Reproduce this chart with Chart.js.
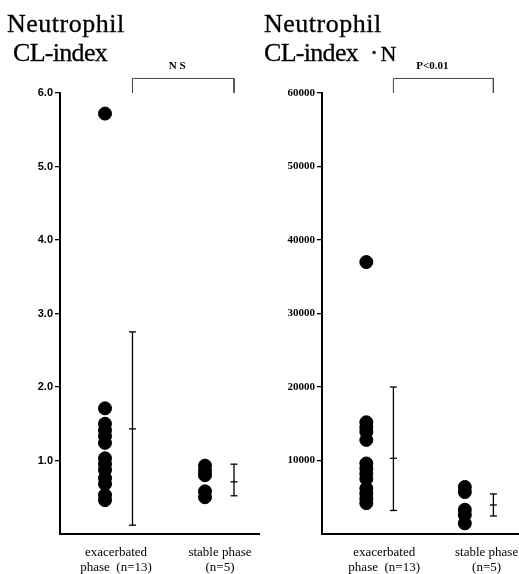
<!DOCTYPE html>
<html>
  <head>
    <title>Neutrophil CL-index</title>
    <script src="https://cdn.jsdelivr.net/npm/chart.js"></script>
    <style>
      body { margin: 0; background: #fff; }
      #wrap { position: relative; width: 519px; height: 574px; overflow: hidden; }
      canvas { position: absolute; top: 0; }
      .ttl {
        position: absolute; top: 9px;
        font-family: "Liberation Serif", serif; font-size: 26px; line-height: 29px; color: #000;
        -webkit-text-stroke: 0.3px #000;
      }
      .ttl span { display: block; white-space: nowrap; }
      .ttl .n1 { letter-spacing: 0.5px; }
      .ttl .n2 { letter-spacing: -0.7px; }
      .ttl .nn { display: inline; font-size: 22px; letter-spacing: 0; margin-left: 3px; }
    </style>
  </head>
  <body>
    <div id="wrap">
      <canvas id="chartCL" width="260" height="574" style="left:0"></canvas>
      <canvas id="chartCLN" width="259" height="574" style="left:260px"></canvas>
      <div class="ttl" style="left:7px"><span class="n1">Neutrophil</span><span class="n2" style="margin-left:6px">CL-index</span></div>
      <div class="ttl" style="left:264px"><span class="n1">Neutrophil</span><span class="n2">CL-index&nbsp; ·<span class="nn">N</span></span></div>
    </div>

    <script>
      // 값
      const xLabels = [["exacerbated", "phase  (n=13)"], ["stable phase", "(n=5)"]];
      const dotPos = [0.9, 2.9];   // 점 열 위치 (x축 단위)
      const barPos = [1.45, 3.48]; // 평균±SD 막대 위치
      const labelPos = [1.12, 3.2];

      // 왼쪽: CL-index
      const exaCL = [5.72, 1.71, 1.50, 1.41, 1.33, 1.24, 1.03, 0.95, 0.87, 0.76, 0.68, 0.53, 0.46];
      const staCL = [0.93, 0.86, 0.80, 0.58, 0.50];
      const exaCLbar = [2.75, 1.43, 0.12]; // high, mean, low
      const staCLbar = [0.95, 0.71, 0.52];
      const yTicksCL = [1, 2, 3, 4, 5, 6];

      // 오른쪽: CL-index · N
      const exaCLN = [37000, 15200, 14500, 13900, 12800, 9600, 8900, 8200, 7500, 6200, 5500, 4800, 4200];
      const staCLN = [6400, 5700, 3300, 2600, 1450];
      const exaCLNbar = [20000, 10300, 3200];
      const staCLNbar = [5450, 3950, 2450];
      const yTicksCLN = [10000, 20000, 30000, 40000, 50000, 60000];

      const sigLabels = ["N S", "P<0.01"];

      function dotSet(vals, x) {
        return {
          type: "scatter",
          data: vals.map((v) => ({ x: x, y: v })),
          backgroundColor: "#000",
          borderColor: "#000",
          pointRadius: 6.5,
          pointHoverRadius: 6.5,
        };
      }

      function barLine(bar, x) {
        return {
          type: "line",
          data: [{ x: x, y: bar[0] }, { x: x, y: bar[2] }],
          borderColor: "#000",
          borderWidth: 1.3,
          pointRadius: 0,
          fill: false,
        };
      }

      function barCaps(bar, x) {
        return {
          type: "scatter",
          data: bar.map((v) => ({ x: x, y: v })),
          pointStyle: "line",
          pointRadius: 3.5,
          borderColor: "#000",
          borderWidth: 1.3,
        };
      }

      function makeChart(id, o) {
        const bracketTop = o.yMax * 1.033;
        const ctx = document.getElementById(id).getContext("2d");
        return new Chart(ctx, {
          data: {
            datasets: [
              dotSet(o.exa, dotPos[0]),
              dotSet(o.sta, dotPos[1]),
              barLine(o.exaBar, barPos[0]),
              barLine(o.staBar, barPos[1]),
              barCaps(o.exaBar, barPos[0]),
              barCaps(o.staBar, barPos[1]),
              {
                // 유의성 괄호
                type: "line",
                data: [
                  { x: barPos[0], y: o.yMax },
                  { x: barPos[0], y: bracketTop },
                  { x: barPos[1], y: bracketTop },
                  { x: barPos[1], y: o.yMax },
                ],
                borderColor: "#444",
                borderWidth: 1,
                pointRadius: 0,
                clip: false,
              },
            ],
          },
          options: {
            responsive: false,
            animation: false,
            layout: { autoPadding: false, padding: { top: 93, left: 0, right: 0, bottom: 0 } },
            plugins: { legend: { display: false }, tooltip: { enabled: false } },
            scales: {
              x: {
                type: "linear",
                min: 0,
                max: 4,
                grid: { display: false },
                border: { display: true, color: "#000", width: 2 },
                ticks: { display: false },
                afterFit: (s) => {
                  s.height = 40;
                },
              },
              y: {
                type: "linear",
                min: 0,
                max: o.yMax,
                grid: { drawOnChartArea: false, drawTicks: true, tickLength: 5, color: "#000", lineWidth: 1.3 },
                border: { display: true, color: "#000", width: 2 },
                afterBuildTicks: (s) => {
                  s.ticks = o.yTicks.map((v) => ({ value: v }));
                },
                afterFit: (s) => {
                  s.width = o.axisW;
                },
                ticks: {
                  padding: 2,
                  color: "#000",
                  font: o.tickFont,
                  callback: o.fmt,
                },
              },
            },
          },
          plugins: [
            {
              id: "texts",
              afterDraw(chart) {
                const c = chart.ctx;
                const xs = chart.scales.x;
                const ys = chart.scales.y;
                c.save();
                c.fillStyle = "#000";
                c.textAlign = "center";
                c.textBaseline = "alphabetic";
                // 유의성 표시
                const cx = (xs.getPixelForValue(barPos[0]) + xs.getPixelForValue(barPos[1])) / 2 + o.sigShift;
                c.font = "bold 11px 'Liberation Serif'";
                c.fillText(o.sig, cx, ys.getPixelForValue(bracketTop) - 9);
                // x축 범주 이름
                c.font = "13px 'Liberation Serif'";
                xLabels.forEach((lines, i) => {
                  const px = xs.getPixelForValue(labelPos[i]) + o.labelShift;
                  lines.forEach((t, j) => c.fillText(t, px, chart.chartArea.bottom + 22 + j * 15));
                });
                c.restore();
              },
            },
          ],
        });
      }

      makeChart("chartCL", {
        exa: exaCL,
        sta: staCL,
        exaBar: exaCLbar,
        staBar: staCLbar,
        yMax: 6,
        yTicks: yTicksCL,
        axisW: 60,
        tickFont: { family: "Liberation Sans", size: 11, weight: "bold" },
        fmt: (v) => v.toFixed(1),
        sig: sigLabels[0],
        sigShift: -6,
        labelShift: 0,
      });

      makeChart("chartCLN", {
        exa: exaCLN,
        sta: staCLN,
        exaBar: exaCLNbar,
        staBar: staCLNbar,
        yMax: 60000,
        yTicks: yTicksCLN,
        axisW: 62,
        tickFont: { family: "Liberation Serif", size: 11, weight: "bold" },
        fmt: (v) => String(v),
        sig: sigLabels[1],
        sigShift: -11,
        labelShift: 7,
      });
    </script>
  </body>
</html>
